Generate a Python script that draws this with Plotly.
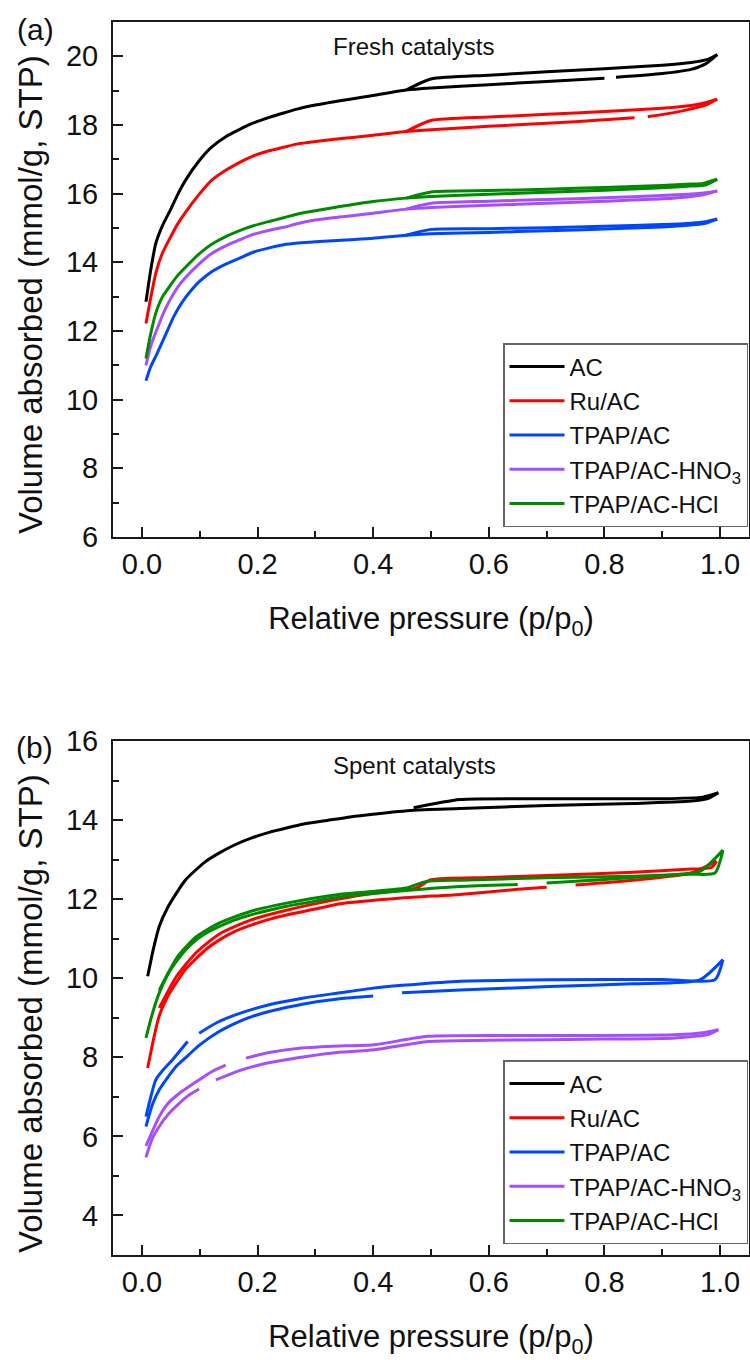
import plotly.graph_objects as go

FONT = "Liberation Sans, Arial, sans-serif"

names = ["AC", "Ru/AC", "TPAP/AC", "TPAP/AC-HNO<sub>3</sub>", "TPAP/AC-HCl"]
colors = ["#000000", "#FF0000", "#0046FF", "#A64DFF", "#008A00"]

# ================= (a) Fresh catalysts  (None = break in the drawn line)
# adsorption branches
fa_ac_p = [0.007, 0.015, 0.024, 0.035, 0.05, 0.062, 0.075, 0.1, 0.12, 0.145, 0.17, 0.19, 0.22, 0.245, 0.27, 0.3, 0.33, 0.36, 0.40, 0.457, 0.5, 0.6, 0.7, 0.8, None, 0.82, 0.9, 0.95, 0.975, 0.995]
fa_ac_v = [12.85, 13.75, 14.55, 15.05, 15.55, 15.98, 16.38, 16.98, 17.35, 17.66, 17.88, 18.04, 18.22, 18.35, 18.47, 18.58, 18.67, 18.75, 18.86, 19.02, 19.08, 19.17, 19.27, 19.36, None, 19.39, 19.50, 19.62, 19.78, 20.05]
fa_ru_p = [0.007, 0.015, 0.024, 0.035, 0.05, 0.062, 0.075, 0.1, 0.12, 0.145, 0.17, 0.19, 0.22, 0.245, 0.27, 0.3, 0.33, 0.36, 0.40, 0.457, 0.5, 0.6, 0.7, 0.8, 0.852, None, 0.875, 0.92, 0.95, 0.975, 0.995]
fa_ru_v = [12.22, 12.95, 13.68, 14.25, 14.75, 15.12, 15.45, 16.0, 16.38, 16.68, 16.92, 17.08, 17.25, 17.35, 17.45, 17.52, 17.58, 17.63, 17.70, 17.81, 17.86, 17.96, 18.05, 18.15, 18.21, None, 18.24, 18.36, 18.47, 18.58, 18.75]
fa_tp_p = [0.007, 0.015, 0.025, 0.042, 0.055, 0.07, 0.085, 0.1, 0.12, 0.145, 0.17, 0.19, 0.22, 0.245, 0.27, 0.3, 0.33, 0.36, 0.40, 0.457, 0.5, 0.6, 0.7, 0.8, 0.9, 0.95, 0.975, 0.995]
fa_tp_v = [10.55, 10.95, 11.3, 11.93, 12.42, 12.85, 13.18, 13.45, 13.72, 13.95, 14.13, 14.28, 14.42, 14.51, 14.56, 14.6, 14.63, 14.66, 14.70, 14.79, 14.83, 14.87, 14.92, 14.97, 15.03, 15.09, 15.14, 15.26]
fa_hn_p = [0.007, 0.015, 0.03, 0.04, 0.05, 0.062, 0.075, 0.1, 0.12, 0.145, 0.17, 0.19, 0.22, 0.245, 0.27, 0.3, 0.33, 0.36, 0.40, 0.457, 0.5, 0.6, 0.7, 0.8, 0.9, 0.95, 0.975, 0.995]
fa_hn_v = [11.0, 11.55, 12.22, 12.62, 12.95, 13.28, 13.55, 13.97, 14.25, 14.48, 14.66, 14.8, 14.93, 15.02, 15.13, 15.23, 15.3, 15.35, 15.43, 15.55, 15.6, 15.66, 15.72, 15.78, 15.85, 15.92, 15.98, 16.08]
fa_hc_p = [0.007, 0.015, 0.024, 0.035, 0.05, 0.062, 0.075, 0.1, 0.12, 0.145, 0.17, 0.19, 0.22, 0.245, 0.27, 0.3, 0.33, 0.36, 0.40, 0.457, 0.5, 0.6, 0.7, 0.8, 0.9, 0.95, 0.975, 0.995]
fa_hc_v = [11.2, 11.9, 12.52, 12.98, 13.35, 13.62, 13.85, 14.26, 14.52, 14.75, 14.93, 15.05, 15.19, 15.3, 15.41, 15.5, 15.59, 15.67, 15.77, 15.87, 15.92, 15.98, 16.04, 16.10, 16.17, 16.22, 16.25, 16.42]
# desorption branches
fd_ac_p = [0.995, 0.98, 0.95, 0.9, 0.8, 0.7, 0.6, 0.5, 0.457]
fd_ac_v = [20.05, 19.92, 19.82, 19.74, 19.64, 19.55, 19.45, 19.34, 19.02]
fd_ru_p = [0.995, 0.975, 0.95, 0.9, 0.8, 0.7, 0.6, 0.5, 0.457]
fd_ru_v = [18.75, 18.65, 18.57, 18.49, 18.39, 18.31, 18.23, 18.13, 17.81]
fd_tp_p = [0.995, 0.975, 0.95, 0.9, 0.8, 0.7, 0.6, 0.5, 0.457]
fd_tp_v = [15.26, 15.18, 15.14, 15.10, 15.05, 15.01, 14.98, 14.96, 14.79]
fd_hn_p = [0.995, 0.975, 0.95, 0.9, 0.8, 0.7, 0.6, 0.5, 0.457]
fd_hn_v = [16.08, 16.03, 15.99, 15.95, 15.88, 15.83, 15.78, 15.72, 15.55]
fd_hc_p = [0.995, 0.97, 0.95, 0.9, 0.8, 0.7, 0.6, 0.5, 0.457]
fd_hc_v = [16.42, 16.30, 16.28, 16.24, 16.18, 16.13, 16.09, 16.05, 15.87]

# ================= (b) Spent catalysts
sa_ac_p = [0.01, 0.02, 0.03, 0.045, 0.06, 0.075, 0.094, 0.11, 0.134, 0.16, 0.19, 0.22, 0.25, 0.28, 0.32, 0.36, 0.4, 0.47, 0.55, 0.7, 0.85, 0.95, 0.98, 0.997]
sa_ac_v = [10.05, 10.75, 11.31, 11.8, 12.16, 12.48, 12.75, 12.95, 13.17, 13.37, 13.55, 13.69, 13.80, 13.90, 13.99, 14.08, 14.15, 14.25, 14.29, 14.37, 14.42, 14.48, 14.55, 14.69]
sa_ru_p = [0.01, 0.02, 0.03, 0.045, 0.06, 0.075, 0.094, 0.11, 0.134, 0.16, 0.19, 0.22, 0.25, 0.3, 0.34, 0.45, 0.55, 0.65, 0.70, None, 0.75, 0.85, 0.95, 0.994]
sa_ru_v = [7.73, 8.45, 9.05, 9.55, 9.9, 10.22, 10.5, 10.72, 10.97, 11.18, 11.35, 11.49, 11.6, 11.75, 11.88, 12.03, 12.12, 12.25, 12.30, None, 12.36, 12.48, 12.66, 12.96]
sa_tp_p = [0.007, 0.018, 0.03, 0.045, 0.059, 0.08, 0.099, 0.13, 0.163, 0.19, 0.22, 0.28, 0.342, 0.40, None, 0.45, 0.55, 0.705, 0.85, 0.965, 1.005]
sa_tp_v = [6.25, 6.8, 7.18, 7.5, 7.77, 8.05, 8.3, 8.62, 8.87, 9.03, 9.16, 9.35, 9.48, 9.55, None, 9.63, 9.70, 9.79, 9.86, 9.96, 10.47]
sa_hn_p = [0.007, 0.018, 0.03, 0.045, 0.065, 0.08, 0.099, None, 0.128, 0.17, 0.215, 0.27, 0.33, 0.402, 0.495, 0.6, 0.8, 0.922, 0.98, 0.997]
sa_hn_v = [5.47, 5.95, 6.25, 6.55, 6.84, 7.03, 7.2, None, 7.43, 7.67, 7.85, 7.99, 8.11, 8.19, 8.40, 8.43, 8.46, 8.49, 8.58, 8.70]
sa_hc_p = [0.007, 0.018, 0.03, 0.045, 0.062, 0.078, 0.094, 0.11, 0.134, 0.16, 0.19, 0.22, 0.25, 0.3, 0.34, 0.457, 0.55, 0.65, None, 0.70, 0.8, 0.9, 0.965, 1.005]
sa_hc_v = [8.49, 9.1, 9.63, 10.1, 10.47, 10.75, 10.97, 11.13, 11.31, 11.47, 11.61, 11.72, 11.82, 11.95, 12.05, 12.22, 12.32, 12.37, None, 12.41, 12.50, 12.60, 12.70, 13.24]

sd_ac_p = [0.997, 0.97, 0.9, 0.7, 0.55, 0.47]
sd_ac_v = [14.69, 14.58, 14.54, 14.54, 14.52, 14.31]
sd_ru_p = [0.994, 0.985, 0.95, 0.85, 0.7, 0.6, 0.5, 0.474, 0.4, 0.34, 0.25, 0.19, 0.134, 0.094, 0.06, 0.03]
sd_ru_v = [12.96, 12.80, 12.76, 12.68, 12.60, 12.55, 12.49, 12.28, 12.15, 12.0, 11.72, 11.48, 11.12, 10.65, 10.05, 9.25]
sd_tp_p = [1.005, 0.991, 0.9, 0.705, 0.544, 0.45, 0.40, 0.342, 0.28, 0.22, 0.163, 0.13, 0.099, None, 0.079, 0.053, 0.035, 0.024, 0.007]
sd_tp_v = [10.47, 9.96, 9.97, 9.96, 9.92, 9.82, 9.75, 9.63, 9.5, 9.33, 9.08, 8.88, 8.61, None, 8.40, 7.94, 7.65, 7.43, 6.5]
sd_hn_p = [0.997, 0.97, 0.922, 0.7, 0.495, 0.402, 0.33, 0.272, 0.22, 0.18, None, 0.145, 0.12, 0.099, 0.065, 0.045, 0.03, 0.007]
sd_hn_v = [8.70, 8.62, 8.57, 8.55, 8.53, 8.32, 8.28, 8.23, 8.12, 7.98, None, 7.80, 7.63, 7.43, 7.09, 6.83, 6.50, 5.76]
sd_hc_p = [1.005, 0.991, 0.95, 0.85, 0.7, 0.55, 0.492, 0.457, 0.34, 0.25, 0.19, 0.134, 0.094, 0.062, 0.03]
sd_hc_v = [13.24, 12.66, 12.63, 12.58, 12.54, 12.48, 12.45, 12.28, 12.12, 11.9, 11.7, 11.4, 11.05, 10.55, 9.7]

fresh_ads = [(fa_ac_p, fa_ac_v), (fa_ru_p, fa_ru_v), (fa_tp_p, fa_tp_v), (fa_hn_p, fa_hn_v), (fa_hc_p, fa_hc_v)]
fresh_des = [(fd_ac_p, fd_ac_v), (fd_ru_p, fd_ru_v), (fd_tp_p, fd_tp_v), (fd_hn_p, fd_hn_v), (fd_hc_p, fd_hc_v)]
spent_ads = [(sa_ac_p, sa_ac_v), (sa_ru_p, sa_ru_v), (sa_tp_p, sa_tp_v), (sa_hn_p, sa_hn_v), (sa_hc_p, sa_hc_v)]
spent_des = [(sd_ac_p, sd_ac_v), (sd_ru_p, sd_ru_v), (sd_tp_p, sd_tp_v), (sd_hn_p, sd_hn_v), (sd_hc_p, sd_hc_v)]

fig = go.Figure()


def add_panel(ads, des, xa, ya, leg, tag):
    for i in range(len(names)):
        for k, (p, v) in enumerate((ads[i], des[i])):
            fig.add_trace(go.Scatter(
                x=p, y=v, mode="lines", name=names[i], legendgroup=tag + str(i),
                showlegend=(k == 0), legend=leg, xaxis=xa, yaxis=ya, connectgaps=False,
                line=dict(color=colors[i], width=3, shape="spline", smoothing=0.6)))


add_panel(fresh_ads, fresh_des, "x", "y", "legend", "f")
add_panel(spent_ads, spent_des, "x2", "y2", "legend2", "s")

X_DOM = [113 / 750, 749 / 750]
Y1_DOM = [1 - 537 / 1360, 1 - 22 / 1360]
Y2_DOM = [1 - 1255 / 1360, 1 - 741 / 1360]

LC = "#1a1a1a"
TXT = "#111"
axis_common = dict(showline=True, linewidth=2, linecolor=LC, mirror=True,
                   showgrid=False, zeroline=False, ticks="inside", ticklen=10, tickwidth=2,
                   tickcolor=LC, tickfont=dict(family=FONT, size=29, color=TXT),
                   automargin=False)
xminor = dict(ticks="inside", ticklen=6, tickwidth=2, dtick=0.1, tickcolor=LC)
yminor = dict(ticks="inside", ticklen=6, tickwidth=2, dtick=1, tickcolor=LC)
xtitle = dict(text="Relative pressure (p/p<sub>0</sub>)", font=dict(family=FONT, size=31, color=TXT), standoff=29)
legend_style = dict(xanchor="right", yanchor="top", bgcolor="white", bordercolor="#666", borderwidth=1.5,
                    font=dict(family=FONT, size=24, color=TXT), tracegroupgap=0, itemwidth=55)

YTITLE = "Volume absorbed (mmol/g, STP)"


def note(text, x, y, size, angle=0):
    return dict(text=text, x=x / 750, y=1 - y / 1360, xanchor="center", yanchor="middle",
                xref="paper", yref="paper", showarrow=False, textangle=angle,
                font=dict(family=FONT, size=size, color=TXT))


fig.update_layout(
    width=750, height=1360, margin=dict(l=0, r=0, t=0, b=0),
    paper_bgcolor="white", plot_bgcolor="white",
    xaxis=dict(domain=X_DOM, anchor="y", range=[-0.05, 1.05], dtick=0.2, tick0=0, tickformat=".1f",
               minor=xminor, title=xtitle, **axis_common),
    yaxis=dict(domain=Y1_DOM, anchor="x", range=[6, 21], dtick=2, tick0=0, ticklabelstandoff=7,
               minor=yminor, **axis_common),
    xaxis2=dict(domain=X_DOM, anchor="y2", range=[-0.05, 1.05], dtick=0.2, tick0=0, tickformat=".1f",
                minor=xminor, title=xtitle, **axis_common),
    yaxis2=dict(domain=Y2_DOM, anchor="x2", range=[3, 16], dtick=2, tick0=0, ticklabelstandoff=7,
                minor=yminor, **axis_common),
    legend=dict(x=748 / 750, y=1 - 343 / 1360, **legend_style),
    legend2=dict(x=748 / 750, y=1 - 1060 / 1360, **legend_style),
    annotations=[
        note(YTITLE, 30, 295, 33, -90),
        note(YTITLE, 30, 1014, 33, -90),
        note("(a)", 35, 29, 30),
        note("(b)", 34, 747, 30),
        note("Fresh catalysts", 413, 47, 24),
        note("Spent catalysts", 414, 765, 24),
    ],
)

fig.write_html("out.html")
